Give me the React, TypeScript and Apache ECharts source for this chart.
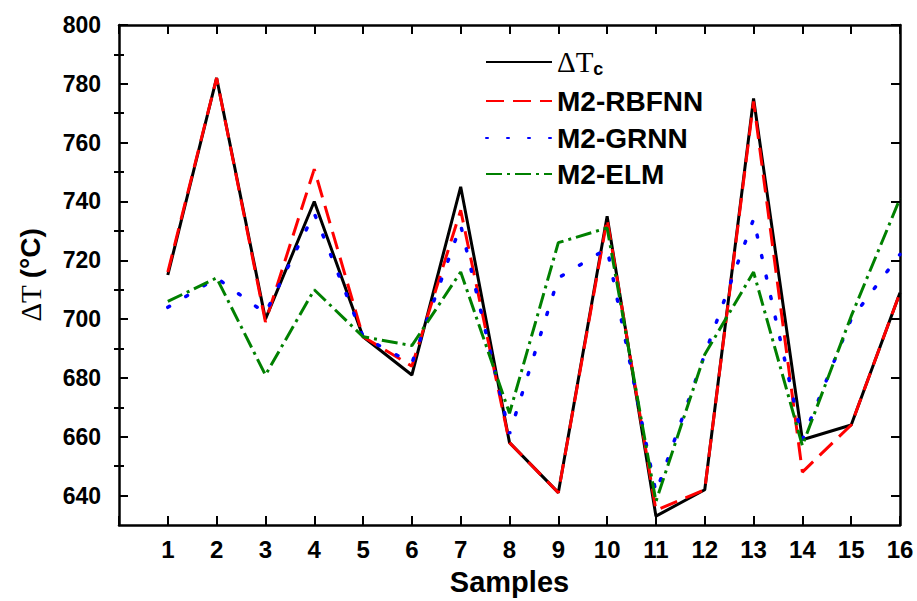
import React, { useEffect, useRef } from "react";
import * as echarts from "echarts";

const samples = [1, 2, 3, 4, 5, 6, 7, 8, 9, 10, 11, 12, 13, 14, 15, 16];
const dTc = [715, 782, 700, 740, 694, 681, 745, 658, 641, 735, 633, 642, 775, 659, 664, 709];
const rbfnn = [716, 782, 699, 751, 694, 684, 737, 658, 641, 734, 635, 642, 774, 648, 664, 709];
const grnn = [704, 714, 702, 736, 694, 685, 732, 661, 714, 724, 641, 688, 734, 659, 700, 722];
const elm = [706, 714, 681, 710, 694, 691, 716, 668, 726, 731, 638, 688, 716, 657, 701, 741];

const yMajorTicks = [640, 660, 680, 700, 720, 740, 760, 780, 800];
const yMinorTicks = [650, 670, 690, 710, 730, 750, 770, 790];

const seriesNames = ["ΔTc", "M2-RBFNN", "M2-GRNN", "M2-ELM"];
const legendRowY = [61, 101, 138, 174];

const SANS = "Arial, 'Liberation Sans', sans-serif";
const SERIF = "'Times New Roman', 'Liberation Serif', serif";

export default function App() {
  const ref = useRef<HTMLDivElement>(null);
  useEffect(() => {
    if (!ref.current) return;
    const chart = echarts.init(ref.current, null, { renderer: "svg" });
    const pair = (arr: number[]) => samples.map((s, i) => [s, arr[i]]);
    const styles = [
      { color: "#000000", type: "solid" as any, cap: "butt", width: 3 },
      { color: "#ff0000", type: [18, 9] as any, cap: "butt", width: 3 },
      { color: "#0000ff", type: [2, 19] as any, cap: "round", width: 3.5 },
      { color: "#008000", type: [16, 5, 3, 5] as any, cap: "butt", width: 3 },
    ];
    const datas = [dTc, rbfnn, grnn, elm];
    const yBase = {
      type: "value",
      min: 630,
      max: 800,
      splitLine: { show: false },
      axisLine: { show: true, onZero: false, lineStyle: { color: "#000", width: 2.5 } },
    };
    const option: any = {
      animation: false,
      backgroundColor: "#ffffff",
      grid: { left: 119, right: 17, top: 25, bottom: 70, containLabel: false },
      legend: seriesNames.map((n, i) => ({
        data: [n],
        left: 485,
        top: legendRowY[i] - 15,
        padding: 0,
        itemWidth: 66,
        itemHeight: 14,
        selectedMode: false,
        itemStyle: { opacity: 0 },
        formatter: (name: string) => (name === "ΔTc" ? "{d|ΔT}{s|c}" : name),
        textStyle: {
          fontFamily: SANS,
          fontWeight: "bold",
          fontSize: 28,
          color: "#000",
          lineHeight: 30,
          rich: {
            d: { fontFamily: SERIF, fontSize: 29, fontWeight: "normal", color: "#000", lineHeight: 30 },
            s: { fontFamily: SANS, fontSize: 18, fontWeight: "bold", color: "#000", padding: [14, 0, 0, 0], lineHeight: 18 },
          },
        },
      })),
      xAxis: [
        {
          type: "value",
          position: "bottom",
          min: 0,
          max: 16,
          interval: 1,
          name: "Samples",
          nameLocation: "middle",
          nameGap: 42,
          nameTextStyle: { fontFamily: SANS, fontWeight: "bold", fontSize: 29, color: "#000" },
          splitLine: { show: false },
          axisLine: { show: true, onZero: false, lineStyle: { color: "#000", width: 2.5 } },
          axisTick: { show: true, inside: true, length: 9, lineStyle: { color: "#000", width: 2 } },
          axisLabel: {
            margin: 12,
            fontFamily: SANS,
            fontWeight: "bold",
            fontSize: 24,
            color: "#000",
            formatter: (v: number) => (v === 0 ? "" : String(v)),
          },
        },
        {
          type: "value",
          position: "top",
          min: 0,
          max: 16,
          interval: 1,
          splitLine: { show: false },
          axisLine: { show: true, onZero: false, lineStyle: { color: "#000", width: 2.5 } },
          axisTick: { show: true, inside: true, length: 9, lineStyle: { color: "#000", width: 2 } },
          axisLabel: { show: false },
        },
      ],
      yAxis: [
        {
          ...yBase,
          position: "left",
          name: "{d|ΔT }{b|(°C)}",
          nameLocation: "middle",
          nameGap: 74,
          nameRotate: 90,
          nameTextStyle: {
            rich: {
              d: { fontFamily: SERIF, fontSize: 29, color: "#000" },
              b: { fontFamily: SANS, fontSize: 28, fontWeight: "bold", color: "#000" },
            },
          },
          axisTick: { show: true, inside: true, length: 9, customValues: yMajorTicks, lineStyle: { color: "#000", width: 2 } },
          axisLabel: {
            margin: 18,
            customValues: yMajorTicks,
            fontFamily: SANS,
            fontWeight: "bold",
            fontSize: 23,
            color: "#000",
          },
        },
        {
          ...yBase,
          position: "left",
          axisLine: { show: false },
          axisTick: { show: true, inside: true, length: 5, customValues: yMinorTicks, lineStyle: { color: "#000", width: 2 } },
          axisLabel: { show: false },
        },
        {
          ...yBase,
          position: "right",
          axisTick: { show: true, inside: true, length: 9, customValues: yMajorTicks, lineStyle: { color: "#000", width: 2 } },
          axisLabel: { show: false },
        },
        {
          ...yBase,
          position: "right",
          axisLine: { show: false },
          axisTick: { show: true, inside: true, length: 5, customValues: yMinorTicks, lineStyle: { color: "#000", width: 2 } },
          axisLabel: { show: false },
        },
      ],
      series: seriesNames.map((n, i) => ({
        name: n,
        type: "line",
        xAxisIndex: 0,
        yAxisIndex: 0,
        data: pair(datas[i]),
        symbol: "none",
        lineStyle: { color: styles[i].color, width: styles[i].width, type: styles[i].type, cap: styles[i].cap },
        itemStyle: { color: styles[i].color },
        z: 2 + i,
      })),
    };
    chart.setOption(option);
    return () => chart.dispose();
  }, []);
  return (
    <div
      ref={ref}
      style={{ position: "fixed", left: 0, top: 0, width: 917, height: 601, background: "#fff" }}
    />
  );
}
